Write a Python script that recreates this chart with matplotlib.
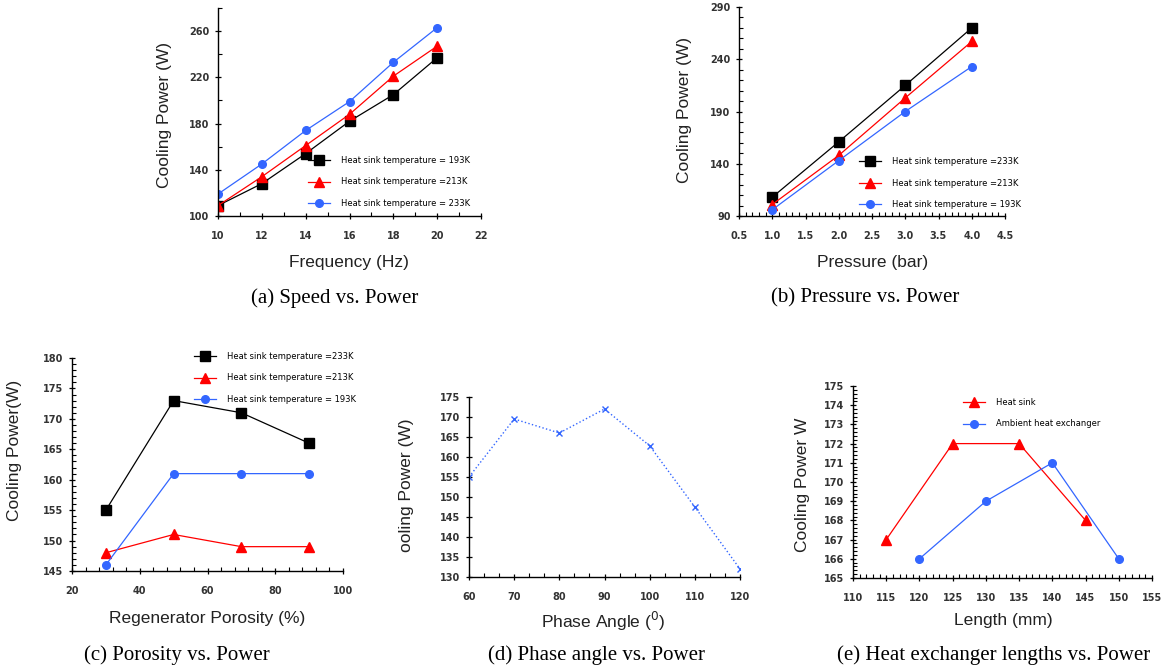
import matplotlib
matplotlib.use('Agg')
import matplotlib.pyplot as plt
from matplotlib.ticker import MultipleLocator, AutoMinorLocator

# (a) speed vs power
freq = [10, 12, 14, 16, 18, 20]
freq_193 = [109, 128, 154, 182, 205, 237]
freq_213 = [109, 134, 161, 188, 221, 247]
freq_233 = [119, 145, 174, 199, 233, 263]

# (b) pressure vs power
pres = [1.0, 2.0, 3.0, 4.0]
pres_233 = [108, 161, 215, 270]
pres_213 = [101, 148, 203, 257]
pres_193 = [96, 143, 190, 233]

# (c) porosity vs power
poro = [30, 50, 70, 90]
poro_233 = [155, 173, 171, 166]
poro_213 = [148, 151, 149, 149]
poro_193 = [146, 161, 161, 161]

# (d) phase angle vs power
phase = [60, 70, 80, 90, 100, 110, 120]
phase_pow = [155, 169.5, 166, 172, 162.8, 147.5, 132]

# (e) heat exchanger length vs power
len_sink = [115, 125, 135, 145]
pow_sink = [167, 172, 172, 168]
len_amb = [120, 130, 140, 150]
pow_amb = [166, 169, 171, 166]

BLUE = '#3366ff'
RED = '#ff0000'
W, H = 1167, 670

fig = plt.figure(figsize=(W / 100, H / 100), dpi=100)


def px_axes(left, top, right, bottom):
    return fig.add_axes([left / W, 1 - bottom / H, (right - left) / W, (bottom - top) / H])


def ftext(x, y, s, **kw):
    fig.text(x / W, 1 - y / H, s, ha='center', va='center', **kw)


def style(ax):
    for s in ['top', 'right']:
        ax.spines[s].set_visible(False)
    for s in ['left', 'bottom']:
        ax.spines[s].set_linewidth(1.0)
    ax.tick_params(which='major', direction='inout', length=5, width=0.9,
                   labelsize=7, colors='black', labelcolor='#333333')
    ax.tick_params(which='minor', direction='in', length=3, width=0.8)
    ax.tick_params(axis='x', pad=8)
    for lab in ax.get_xticklabels() + ax.get_yticklabels():
        lab.set_fontweight('bold')


def legend(ax, x, y):
    ax.legend(loc='upper left', bbox_to_anchor=(x / W, 1 - y / H),
              bbox_transform=fig.transFigure, frameon=False, fontsize=6,
              handlelength=2.6, handletextpad=1.4, labelspacing=1.5,
              borderpad=0, borderaxespad=0)


lab_kw = dict(fontsize=12.5, family='Liberation Sans', color='#222222')
cap_kw = dict(fontsize=15, family='Liberation Serif')

# ---- (a)
ax = px_axes(218, 8, 481, 216)
ax.plot(freq, freq_193, '-s', color='black', lw=0.9, ms=6.5, label='Heat sink temperature = 193K')
ax.plot(freq, freq_213, '-^', color=RED, lw=0.9, ms=6.5, label='Heat sink temperature =213K')
ax.plot(freq, freq_233, '-o', color=BLUE, lw=0.9, ms=5.5, label='Heat sink temperature = 233K')
ax.set_xlim(10, 22)
ax.set_ylim(100, 280)
ax.set_xticks(range(10, 23, 2))
ax.set_yticks(range(100, 261, 40))
ax.xaxis.set_minor_locator(MultipleLocator(1))
ax.yaxis.set_minor_locator(MultipleLocator(20))
style(ax)
legend(ax, 308, 156)
ftext(349, 263, 'Frequency (Hz)', **lab_kw)
ftext(165, 115, 'Cooling Power (W)', rotation=90, **lab_kw)
ftext(335, 298, '(a) Speed vs. Power', **cap_kw)

# ---- (b)
ax = px_axes(739, 7, 1005, 216)
ax.plot(pres, pres_233, '-s', color='black', lw=0.9, ms=6.5, label='Heat sink temperature =233K')
ax.plot(pres, pres_213, '-^', color=RED, lw=0.9, ms=6.5, label='Heat sink temperature =213K')
ax.plot(pres, pres_193, '-o', color=BLUE, lw=0.9, ms=5.5, label='Heat sink temperature = 193K')
ax.set_xlim(0.5, 4.5)
ax.set_ylim(90, 290)
ax.set_xticks([0.5, 1.0, 1.5, 2.0, 2.5, 3.0, 3.5, 4.0, 4.5])
ax.set_xticklabels(['0.5', '1.0', '1.5', '2.0', '2.5', '3.0', '3.5', '4.0', '4.5'])
ax.set_yticks(range(90, 291, 50))
ax.xaxis.set_minor_locator(MultipleLocator(0.1))
ax.yaxis.set_minor_locator(MultipleLocator(10))
style(ax)
legend(ax, 859, 157)
ftext(873, 263, 'Pressure (bar)', **lab_kw)
ftext(684, 110, 'Cooling Power (W)', rotation=90, **lab_kw)
ftext(865, 298, '(b) Pressure vs. Power', **cap_kw)

# ---- (c)
ax = px_axes(72, 358, 343, 571)
ax.plot(poro, poro_233, '-s', color='black', lw=0.9, ms=6.5, label='Heat sink temperature =233K')
ax.plot(poro, poro_213, '-^', color=RED, lw=0.9, ms=6.5, label='Heat sink temperature =213K')
ax.plot(poro, poro_193, '-o', color=BLUE, lw=0.9, ms=5.5, label='Heat sink temperature = 193K')
ax.set_xlim(20, 100)
ax.set_ylim(145, 180)
ax.set_xticks(range(20, 101, 20))
ax.set_yticks(range(145, 181, 5))
ax.xaxis.set_minor_locator(MultipleLocator(4))
ax.yaxis.set_minor_locator(MultipleLocator(1))
style(ax)
legend(ax, 194, 352)
ftext(207, 618, 'Regenerator Porosity (%)', **lab_kw)
ftext(15, 450, 'Cooling Power(W)', rotation=90, **lab_kw)
ftext(177, 655, '(c) Porosity vs. Power', **cap_kw)

# ---- (d)
ax = px_axes(469, 397, 740, 577)
ax.plot(phase, phase_pow, ':x', color=BLUE, lw=1.0, ms=4, mew=1.0)
ax.set_xlim(60, 120)
ax.set_ylim(130, 175)
ax.set_xticks(range(60, 121, 10))
ax.set_yticks(range(130, 176, 5))
ax.xaxis.set_minor_locator(AutoMinorLocator(3))
style(ax)
ftext(603, 621, 'Phase Angle ($^0$)', **lab_kw)
ftext(407, 485, 'ooling Power (W)', rotation=90, **lab_kw)
ftext(597, 655, '(d) Phase angle vs. Power', **cap_kw)

# ---- (e)
ax = px_axes(853, 386, 1152, 578)
ax.plot(len_sink, pow_sink, '-^', color=RED, lw=0.9, ms=6.5, label='Heat sink')
ax.plot(len_amb, pow_amb, '-o', color=BLUE, lw=0.9, ms=5.5, label='Ambient heat exchanger')
ax.set_xlim(110, 155)
ax.set_ylim(165, 175)
ax.set_xticks(range(110, 156, 5))
ax.set_yticks(range(165, 176, 1))
ax.xaxis.set_minor_locator(MultipleLocator(1))
ax.yaxis.set_minor_locator(MultipleLocator(0.2))
style(ax)
legend(ax, 963, 398)
ftext(1003, 621, 'Length (mm)', **lab_kw)
ftext(802, 485, 'Cooling Power W', rotation=90, **lab_kw)
ftext(994, 655, '(e) Heat exchanger lengths vs. Power', **cap_kw)

fig.savefig('out.png', dpi=100)
